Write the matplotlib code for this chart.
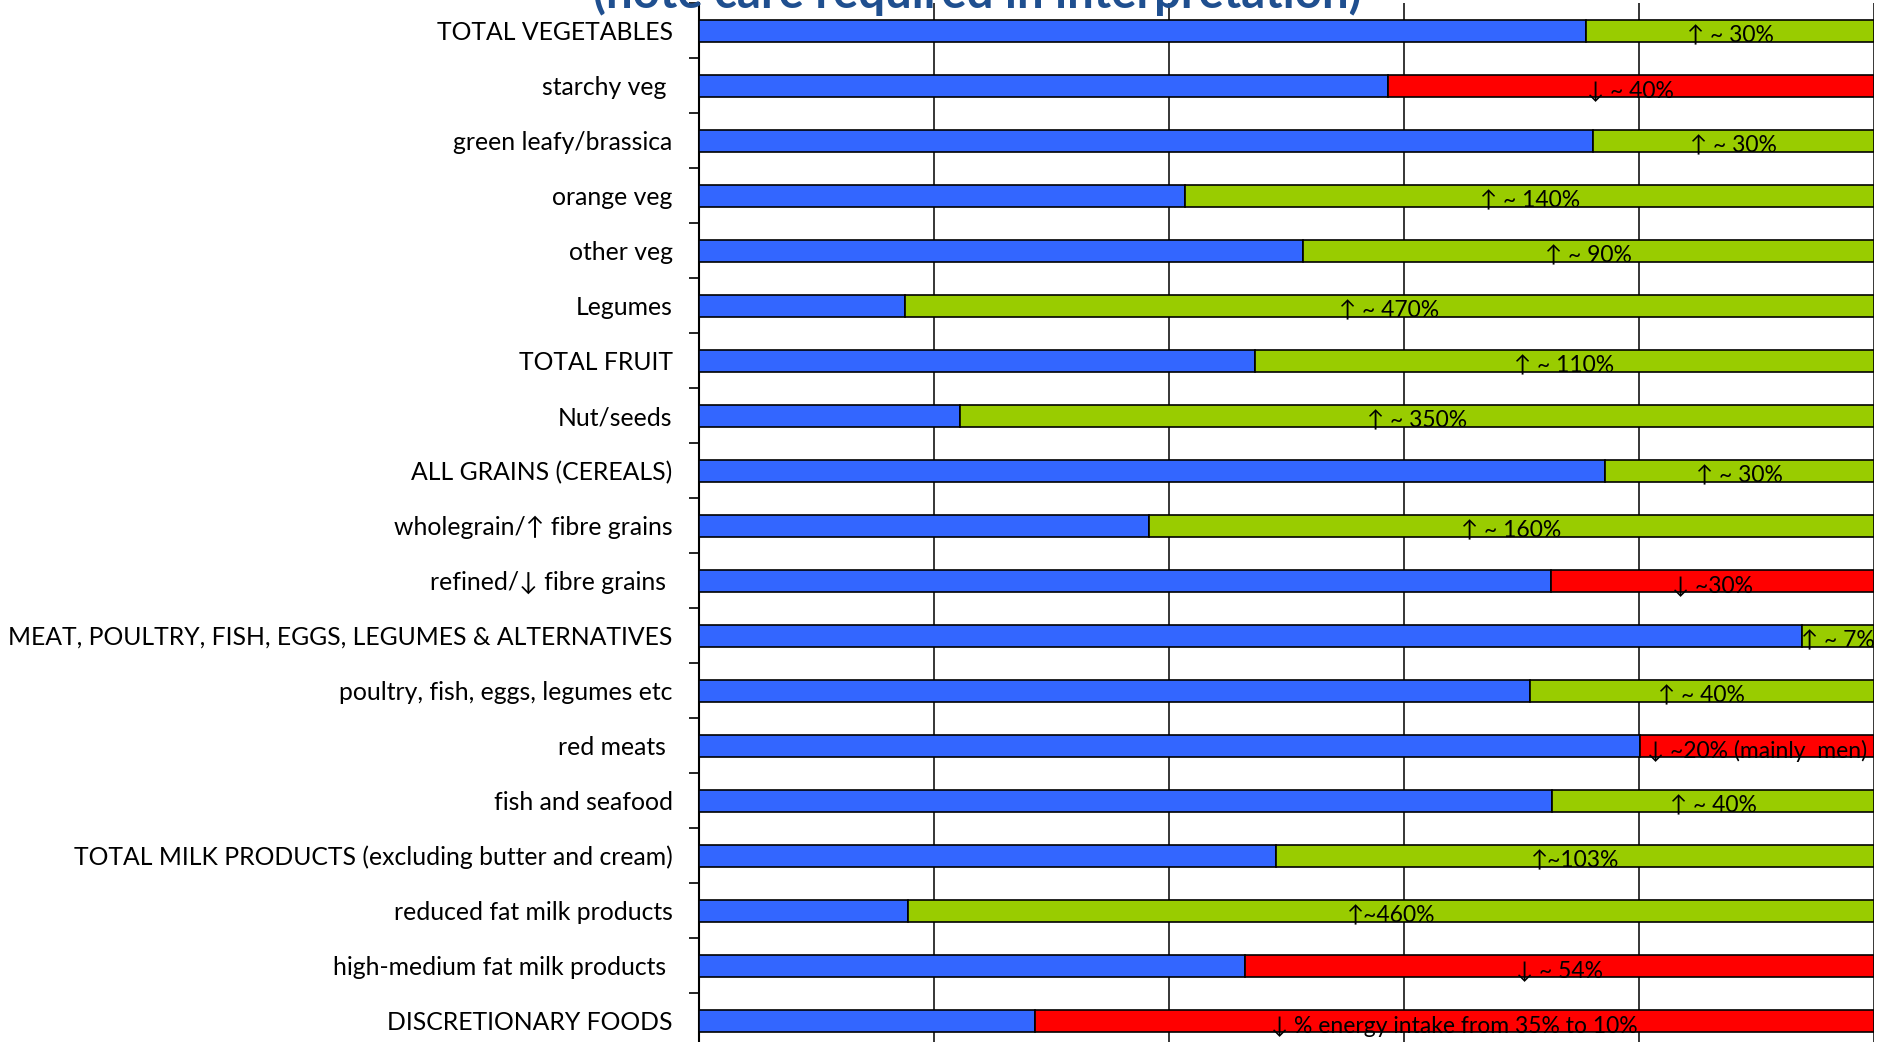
import numpy as np
import matplotlib
matplotlib.use("Agg")
import matplotlib.pyplot as plt

# current intake as % of the recommended level, and the change needed
categories = [
    "TOTAL VEGETABLES", "starchy veg ", "green leafy/brassica", "orange veg",
    "other veg", "Legumes", "TOTAL FRUIT", "Nut/seeds",
    "ALL GRAINS (CEREALS)", "wholegrain/\u2191 fibre grains",
    "refined/\u2193 fibre grains ",
    "MEAT, POULTRY, FISH, EGGS, LEGUMES & ALTERNATIVES",
    "poultry, fish, eggs, legumes etc", "red meats ", "fish and seafood",
    "TOTAL MILK PRODUCTS (excluding butter and cream)",
    "reduced fat milk products", "high-medium fat milk products ",
    "DISCRETIONARY FOODS",
]
current = [75.5, 58.6, 76.1, 41.4, 51.4, 17.5, 47.3, 22.2, 77.1, 38.3,
           72.5, 93.9, 70.7, 80.1, 72.6, 49.1, 17.8, 46.5, 28.6]
direction = ["up", "down", "up", "up", "up", "up", "up", "up", "up", "up",
             "down", "up", "up", "down", "up", "up", "up", "down", "down"]
change_labels = [
    "\u2191 ~ 30%", "\u2193 ~ 40%", "\u2191 ~ 30%", "\u2191 ~ 140%",
    "\u2191 ~ 90%", "\u2191 ~ 470%", "\u2191 ~ 110%", "\u2191 ~ 350%",
    "\u2191 ~ 30%", "\u2191 ~ 160%", "\u2193 ~30%", "\u2191 ~ 7%",
    "\u2191 ~ 40%", "\u2193 ~20% (mainly  men)", "\u2191 ~ 40%",
    "\u2191~103%", "\u2191~460%", "\u2193 ~ 54%",
    "\u2193 % energy intake from 35% to 10%",
]
title = "(note care required in interpretation)"

BLUE, GREEN, RED = "#3366ff", "#99cc00", "#ff0000"
FONT = ["Lato", "DejaVu Sans"]

W, H = 1877, 1042
fig = plt.figure(figsize=(W / 100, H / 100), dpi=100)
ax = fig.add_axes([699 / W, -6 / H, 1175 / W, 1045 / H])

y = np.arange(len(categories))
cur = np.array(current)
rest = 100 - cur
rest_col = [GREEN if d == "up" else RED for d in direction]

ax.barh(y, cur, height=0.4, color=BLUE, edgecolor="black", lw=1.2,
        zorder=3)
ax.barh(y, rest, left=cur, height=0.4, color=rest_col, edgecolor="black",
        lw=1.2, zorder=3)

for yi, c, r, lab in zip(y, cur, rest, change_labels):
    ax.text(c + r / 2, yi + 0.1, lab, ha="center", va="center",
            fontsize=16.5, family=FONT, zorder=4)

ax.set_xlim(0, 100)
ax.set_ylim(len(categories) - 0.5, -0.5)
ax.set_xticks([0, 20, 40, 60, 80, 100])
ax.tick_params(axis="x", length=0, labelbottom=False)
ax.grid(axis="x", color="black", lw=1.1, zorder=0)

ax.set_yticks(y)
ax.set_yticklabels(categories, family=FONT, fontsize=17.8)
ax.set_yticks(np.arange(-0.5, len(categories), 1), minor=True)
ax.tick_params(axis="y", which="major", length=0, pad=19)
ax.tick_params(axis="y", which="minor", length=7, width=1.2,
               direction="out", color="black")

for side in ("top", "right", "bottom"):
    ax.spines[side].set_visible(False)
ax.spines["left"].set_color("black")
ax.spines["left"].set_linewidth(1.5)

fig.text(977 / W, 1 - 8 / H, title, ha="center", va="baseline",
         fontsize=34, fontweight="bold", color="#1f4f8f", family=FONT)

fig.savefig("out.png", dpi=100)
